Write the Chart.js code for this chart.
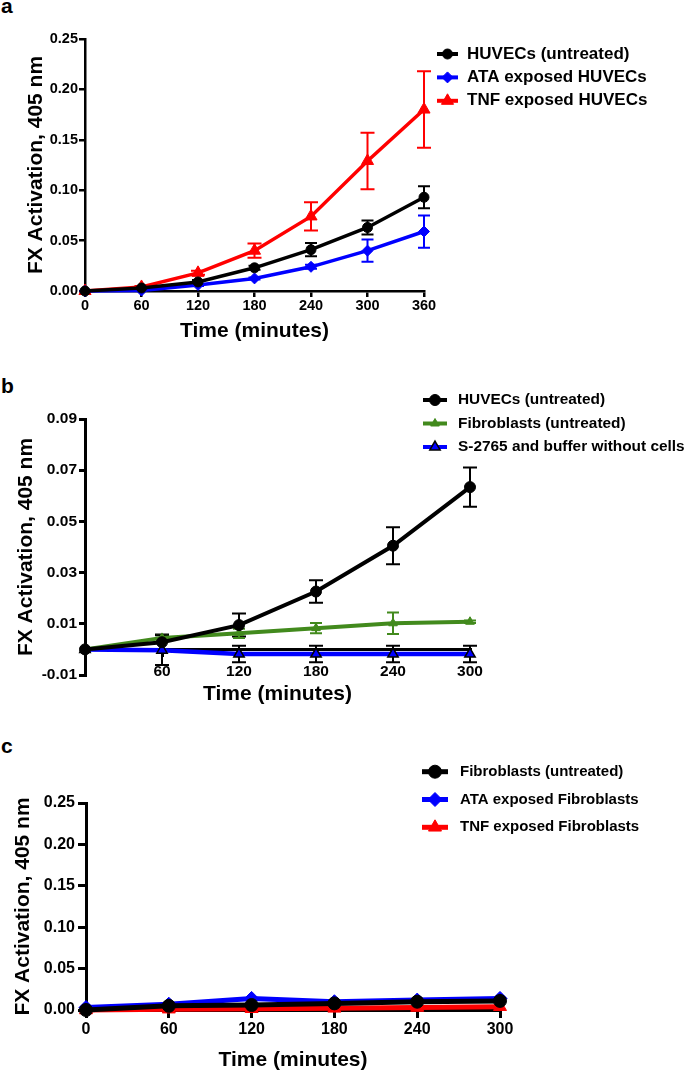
<!DOCTYPE html>
<html>
<head>
<meta charset="utf-8">
<script src="https://cdn.jsdelivr.net/npm/chart.js@4.4.1/dist/chart.umd.min.js"></script>
<style>
  body { margin:0; background:#fff; width:685px; height:1073px; position:relative; overflow:hidden; }
  .panel { position:absolute; left:0; width:685px; }
  .letter { position:absolute; left:1px; font:bold 21px "Liberation Sans", Arial, sans-serif; line-height:21px; color:#000; }
</style>
</head>
<body>
<div class="letter" style="top:-5px">a</div>
<div class="letter" style="top:375px">b</div>
<div class="letter" style="top:735px">c</div>
<div class="panel" style="top:0;height:345px"><canvas id="chartA"></canvas></div>
<div class="panel" style="top:345px;height:365px"><canvas id="chartB"></canvas></div>
<div class="panel" style="top:710px;height:363px"><canvas id="chartC"></canvas></div>
<script>
/* panel a - HUVECs */
const timesA = [0, 60, 120, 180, 240, 300, 360];
const huvecA = [0, 0.003, 0.009, 0.023, 0.041, 0.063, 0.093];
const huvecErrA = [0, 0.001, 0.002, 0.002, 0.0065, 0.007, 0.011];
const ataA = [0, 0.0005, 0.006, 0.0125, 0.024, 0.040, 0.059];
const ataErrA = [0, 0, 0.001, 0.001, 0.002, 0.011, 0.016];
const tnfA = [0, 0.004, 0.018, 0.040, 0.074, 0.129, 0.180];
const tnfErrA = [0, 0.001, 0.002, 0.007, 0.014, 0.028, 0.038];
const xTicksA = [0, 60, 120, 180, 240, 300, 360];
const yTicksA = [0, 0.05, 0.10, 0.15, 0.20, 0.25];

/* panel b - controls */
const timesB = [0, 60, 120, 180, 240, 300];
const huvecB = [0, 0.0028, 0.0095, 0.0226, 0.0405, 0.0634];
const huvecErrB = [0, 0.003, 0.0045, 0.0044, 0.0072, 0.0077];
const fibroB = [0, 0.0045, 0.0063, 0.0083, 0.0102, 0.0108];
const fibroErrB = [0, 0.001, 0.0018, 0.002, 0.0042, 0.0005];
const bufferB = [0, -0.0003, -0.0018, -0.0018, -0.0018, -0.0018];
const bufferErrB = [0, 0.0058, 0.0032, 0.0032, 0.0032, 0.0032];
const xTicksB = [60, 120, 180, 240, 300];
const yTicksB = [-0.01, 0.01, 0.03, 0.05, 0.07, 0.09];

/* panel c - fibroblasts */
const timesC = [0, 60, 120, 180, 240, 300];
const fibroC = [0, 0.005, 0.006, 0.008, 0.010, 0.011];
const ataC = [0.003, 0.007, 0.014, 0.010, 0.012, 0.014];
const tnfC = [0, 0.001, 0.0015, 0.002, 0.003, 0.004];
const xTicksC = [0, 60, 120, 180, 240, 300];
const yTicksC = [0, 0.05, 0.10, 0.15, 0.20, 0.25];

const FONT = '"Liberation Sans", Arial, sans-serif';
const BLACK = '#000000', BLUE = '#0000ff', RED = '#ff0000', GREEN = '#428a1d';

function pts(xs, ys) { return xs.map((x, i) => ({ x: x, y: ys[i] })); }

/* error bars, drawn under the lines */
const errorBars = {
  id: 'errorBars',
  beforeDatasetsDraw(chart) {
    const ctx = chart.ctx, ys = chart.scales.y;
    chart.data.datasets.forEach((ds, i) => {
      if (!ds.errors) return;
      const meta = chart.getDatasetMeta(i);
      ctx.save();
      ctx.strokeStyle = ds.errorColor || ds.borderColor;
      ctx.lineWidth = ds.errorWidth || 2;
      meta.data.forEach((p, j) => {
        const e = ds.errors[j];
        if (!e) return;
        const v = ds.data[j].y;
        const t = ys.getPixelForValue(v + e), b = ys.getPixelForValue(v - e);
        const c = ds.capWidth || 6;
        ctx.beginPath();
        ctx.moveTo(p.x, t); ctx.lineTo(p.x, b);
        ctx.moveTo(p.x - c, t); ctx.lineTo(p.x + c, t);
        ctx.moveTo(p.x - c, b); ctx.lineTo(p.x + c, b);
        ctx.stroke();
      });
      ctx.restore();
    });
  }
};

function marker(ctx, style, x, y, r) {
  ctx.beginPath();
  if (style === 'triangle') {
    for (let k = 0; k < 3; k++) {
      const a = k * 2 * Math.PI / 3;
      const px = x + Math.sin(a) * r, py = y - Math.cos(a) * r;
      k ? ctx.lineTo(px, py) : ctx.moveTo(px, py);
    }
    ctx.closePath();
  } else if (style === 'rectRot') {
    ctx.moveTo(x, y - r); ctx.lineTo(x + r, y); ctx.lineTo(x, y + r); ctx.lineTo(x - r, y); ctx.closePath();
  } else {
    ctx.arc(x, y, r, 0, Math.PI * 2);
  }
  ctx.fill();
  ctx.stroke();
}

/* legend: line + marker + label, to the right of the plot */
const sideLegend = {
  id: 'sideLegend',
  afterDraw(chart, args, o) {
    const ctx = chart.ctx;
    chart.data.datasets.forEach((ds, i) => {
      const y = o.top + i * o.gap;
      ctx.save();
      ctx.strokeStyle = ds.borderColor;
      ctx.lineWidth = o.lineWidth;
      ctx.beginPath();
      ctx.moveTo(o.x, y); ctx.lineTo(o.x + o.len, y);
      ctx.stroke();
      ctx.fillStyle = ds.pointBackgroundColor;
      ctx.strokeStyle = ds.pointBorderColor;
      ctx.lineWidth = ds.pointBorderWidth;
      marker(ctx, ds.pointStyle, o.x + o.len / 2, y, ds.pointRadius);
      ctx.fillStyle = '#000';
      ctx.font = 'bold ' + o.font + 'px ' + FONT;
      ctx.textBaseline = 'middle';
      ctx.textAlign = 'left';
      ctx.fillText(ds.label, o.textX, y);
      ctx.restore();
    });
  }
};

function series(label, xs, ys, errs, color, style, r, lw, extra) {
  return Object.assign({
    label: label,
    data: pts(xs, ys),
    errors: errs,
    borderColor: color,
    backgroundColor: color,
    borderWidth: lw,
    pointStyle: style,
    pointRadius: r,
    pointBackgroundColor: color,
    pointBorderColor: color,
    pointBorderWidth: 1,
    tension: 0,
    clip: false
  }, extra || {});
}

function axes(p) {
  const tickFont = { family: FONT, weight: 'bold', size: p.tickSize };
  const titleFont = { family: FONT, weight: 'bold', size: 21, lineHeight: 1.2 };
  return {
    x: {
      type: 'linear', min: p.xMin, max: p.xMax,
      position: p.xPos || 'bottom',
      afterBuildTicks: s => { s.ticks = p.xTicks.map(v => ({ value: v })); },
      afterFit: s => { s.height = p.xHeight; },
      ticks: { font: tickFont, color: '#000', padding: p.xPad, maxRotation: 0, callback: v => String(v) },
      grid: { drawOnChartArea: false, drawTicks: true, tickLength: p.tick, color: '#000', lineWidth: p.axisW },
      border: { color: '#000', width: p.axisW },
      title: { display: true, text: 'Time (minutes)', font: titleFont, color: '#000', padding: { top: 0, bottom: p.xTitlePad } }
    },
    y: {
      type: 'linear', min: p.yMin, max: p.yMax,
      afterBuildTicks: s => { s.ticks = p.yTicks.map(v => ({ value: v })); },
      afterFit: s => { s.width = p.yWidth; },
      ticks: { font: tickFont, color: '#000', padding: p.yPad, callback: v => v.toFixed(2) },
      grid: { drawOnChartArea: false, drawTicks: true, tickLength: p.tick, color: '#000', lineWidth: p.axisW },
      border: { color: '#000', width: p.axisW },
      title: { display: true, text: 'FX Activation, 405 nm', font: titleFont, color: '#000', padding: { top: p.yTitlePad, bottom: 0 } }
    }
  };
}

function baseOptions(pad, scales, legend) {
  return {
    responsive: true,
    maintainAspectRatio: false,
    animation: false,
    layout: { padding: pad },
    scales: scales,
    plugins: { legend: { display: false }, tooltip: { enabled: false }, sideLegend: legend }
  };
}

new Chart(document.getElementById('chartA'), {
  type: 'line',
  data: {
    datasets: [
      series('HUVECs (untreated)', timesA, huvecA, huvecErrA, BLACK, 'circle', 5, 3.5, { capWidth: 6 }),
      series('ATA exposed HUVECs', timesA, ataA, ataErrA, BLUE, 'rectRot', 5.5, 3.5, { capWidth: 6 }),
      series('TNF exposed HUVECs', timesA, tnfA, tnfErrA, RED, 'triangle', 7, 3.5, { capWidth: 7 })
    ]
  },
  options: baseOptions({ left: 0, top: 39, right: 261, bottom: 0 },
    axes({ xMin: 0, xMax: 360, xTicks: xTicksA, yMin: 0, yMax: 0.25, yTicks: yTicksA,
      tickSize: 14.5, tick: 6, axisW: 2.5, xHeight: 54, xPad: 0, xTitlePad: 1.4,
      yWidth: 85, yPad: 1, yTitlePad: 23.4 }),
    { x: 437, len: 21, top: 54, gap: 23.4, textX: 467, font: 17, lineWidth: 4 }),
  plugins: [errorBars, sideLegend]
});

new Chart(document.getElementById('chartB'), {
  type: 'line',
  data: {
    datasets: [
      series('HUVECs (untreated)', timesB, huvecB, huvecErrB, BLACK, 'circle', 5.5, 4, { capWidth: 7 }),
      series('Fibroblasts (untreated)', timesB, fibroB, fibroErrB, GREEN, 'triangle', 5, 4, { capWidth: 6 }),
      series('S-2765 and buffer without cells', timesB, bufferB, bufferErrB, BLUE, 'triangle', 6, 4.5,
        { capWidth: 7, errorColor: BLACK, pointBorderColor: BLACK, pointBorderWidth: 1.5 })
    ]
  },
  options: baseOptions({ left: 0, top: 74, right: 215, bottom: 35 },
    axes({ xMin: 0, xMax: 300, xTicks: xTicksB, xPos: { y: 0 }, yMin: -0.01, yMax: 0.09, yTicks: yTicksB,
      tickSize: 15.5, tick: 6, axisW: 3, xHeight: 58, xPad: 7, xTitlePad: 0.4,
      yWidth: 85, yPad: 2, yTitlePad: 13.4 }),
    { x: 423, len: 24, top: 55, gap: 23.5, textX: 458, font: 15.4, lineWidth: 4 }),
  plugins: [errorBars, sideLegend]
});

new Chart(document.getElementById('chartC'), {
  type: 'line',
  data: {
    datasets: [
      series('Fibroblasts (untreated)', timesC, fibroC, null, BLACK, 'circle', 6.5, 5),
      series('ATA exposed Fibroblasts', timesC, ataC, null, BLUE, 'rectRot', 7, 5),
      series('TNF exposed Fibroblasts', timesC, tnfC, null, RED, 'triangle', 7.5, 5)
    ]
  },
  options: baseOptions({ left: 0, top: 93, right: 185, bottom: 0 },
    axes({ xMin: 0, xMax: 300, xTicks: xTicksC, yMin: 0, yMax: 0.25, yTicks: yTicksC,
      tickSize: 16, tick: 8, axisW: 3, xHeight: 63, xPad: 2, xTitlePad: 0.4,
      yWidth: 86, yPad: 3, yTitlePad: 11 }),
    { x: 422, len: 26, top: 61.7, gap: 27.8, textX: 460, font: 15, lineWidth: 5 }),
  plugins: [errorBars, sideLegend]
});
</script>
</body>
</html>
